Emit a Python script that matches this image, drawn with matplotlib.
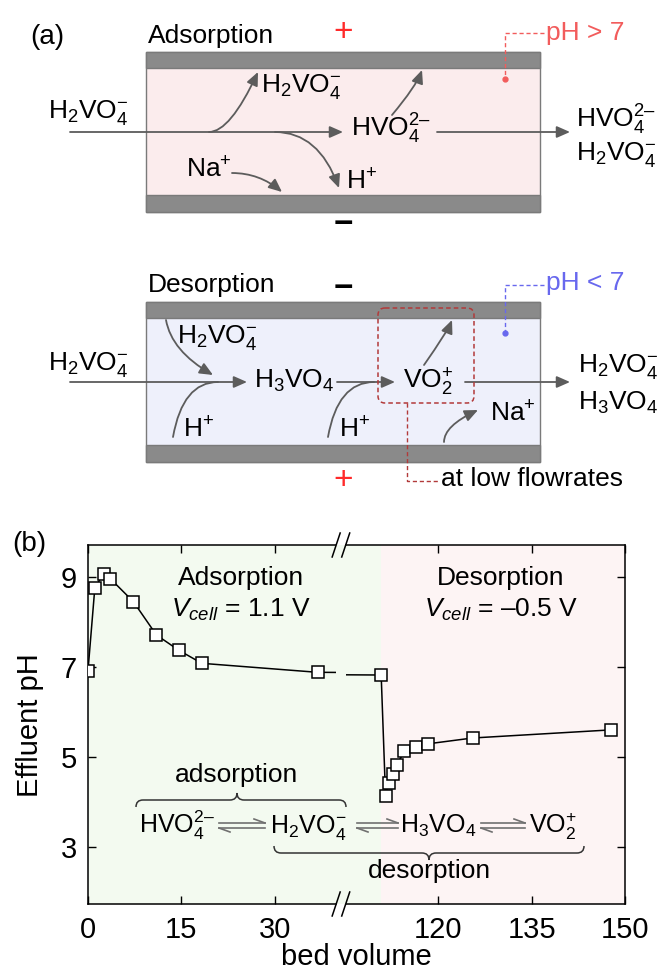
import matplotlib
matplotlib.use("Agg")
import matplotlib.pyplot as plt
from matplotlib.patches import Rectangle, FancyArrowPatch, FancyBboxPatch, PathPatch, ArrowStyle
from matplotlib.path import Path

plt.rcParams['font.family'] = ['Liberation Sans', 'DejaVu Sans']
plt.rcParams['mathtext.fontset'] = 'custom'
plt.rcParams['mathtext.rm'] = 'Liberation Sans'
plt.rcParams['mathtext.it'] = 'Liberation Sans:italic'
plt.rcParams['mathtext.default'] = 'regular'

# ---- data for panel (b) ----
bed_volume = [0, 1.1, 2.5, 3.6, 7.3, 11.0, 14.6, 18.3, 36.9,
              110.8, 111.5, 112.0, 112.7, 113.3, 114.5, 116.4, 118.3, 125.5, 147.7]
effluent_ph = [6.92, 8.76, 9.07, 8.96, 8.45, 7.71, 7.37, 7.08, 6.88,
               6.82, 4.14, 4.43, 4.63, 4.81, 5.13, 5.21, 5.29, 5.42, 5.60]
desorption_start = 110.8
left_xticks = [0, 15, 30]
right_xticks = [120, 135, 150]
ph_ticks = [3, 5, 7, 9]
species = [r'HVO$_4^{2–}$', r'H$_2$VO$_4^{-}$', r'H$_3$VO$_4$', r'VO$_2^{+}$']

W, H = 668, 974
GRAY = '#5c5c5c'
GREEN = '#f3faf0'
PINK = '#fdf4f4'
FS = 19

fig = plt.figure(figsize=(W / 100, H / 100), dpi=100)


def fbox(x0, y0, x1, y1):
    return [x0 / W, 1 - y1 / H, (x1 - x0) / W, (y1 - y0) / H]


# ---- panel (b): broken x axis ----
ppu = 6.22          # pixels per bed volume
x_left0 = 88
left_lim = (0, 39.9)
right_lim = (105.1, 150)
x_right1 = 625
ax_top, ax_bot = 545, 904
x_left1 = x_left0 + (left_lim[1] - left_lim[0]) * ppu
x_right0 = x_right1 - (right_lim[1] - right_lim[0]) * ppu

ax1 = fig.add_axes(fbox(x_left0, ax_top, x_left1, ax_bot))
ax2 = fig.add_axes(fbox(x_right0, ax_top, x_right1, ax_bot), sharey=ax1)

for ax, lim, ticks in [(ax1, left_lim, left_xticks), (ax2, right_lim, right_xticks)]:
    ax.axvspan(lim[0], desorption_start, color=GREEN, lw=0, zorder=0)
    ax.axvspan(desorption_start, lim[1], color=PINK, lw=0, zorder=0)
    ax.plot(bed_volume, effluent_ph, color='black', lw=1.1, marker='s', ms=8,
            mfc='white', mec='black', mew=1.1, zorder=3)
    ax.set_xlim(*lim)
    ax.set_xticks(ticks)
    ax.tick_params(direction='in', length=6, width=1.0, labelsize=21,
                   top=True, pad=9)
    for s in ax.spines.values():
        s.set_linewidth(1.1)

ax1.set_ylim(1.73, 9.71)
ax1.set_yticks(ph_ticks)
ax1.spines['right'].set_visible(False)
ax1.tick_params(axis='y', pad=8)
ax2.spines['left'].set_visible(False)
ax2.yaxis.tick_right()
ax2.tick_params(axis='y', labelright=False, direction='in', length=6, width=1.0)

# ---- overlay in pixel coordinates ----
ov = fig.add_axes([0, 0, 1, 1])
ov.set_xlim(0, W)
ov.set_ylim(H, 0)
ov.axis('off')


def txt(x, y, s, size=FS, **kw):
    kw.setdefault('va', 'baseline')
    ov.text(x, y, s, fontsize=size, **kw)


def arrow(p0, p1, conn='arc3,rad=0', head=True, color=GRAY):
    style = ArrowStyle('-|>', head_length=0.5, head_width=0.22) if head else '-'
    ov.add_patch(FancyArrowPatch(p0, p1, arrowstyle=style, connectionstyle=conn,
                                 color=color, lw=1.3, mutation_scale=16,
                                 shrinkA=0, shrinkB=0))


def cell(y0, fill):
    ov.add_patch(Rectangle((146, y0), 394, 160, fc=fill, ec='#7a7a7a', lw=1.0))
    ov.add_patch(Rectangle((146, y0), 394, 16, fc='#8a8a8a', ec='#7a7a7a', lw=1.0))
    ov.add_patch(Rectangle((146, y0 + 143), 394, 17, fc='#8a8a8a', ec='#7a7a7a', lw=1.0))


def leader(y_text, y_dot, color):
    ov.plot([544, 505, 505], [y_text, y_text, y_dot], color=color, lw=1.0,
            ls=(0, (3, 2)))
    ov.plot([505], [y_dot], 'o', color=color, ms=3.5)


# panel (a) top: adsorption
txt(30, 44, '(a)', size=20)
txt(148, 43, 'Adsorption')
txt(343, 33, '+', size=24, color='#ff2a2a', ha='center', va='center')
txt(343, 225, '−', size=24, fontweight='bold', ha='center', va='center')
cell(52, '#fbeced')
txt(546, 40, 'pH > 7', color='#f25c5c')
leader(33, 79, '#f25c5c')

arrow((70, 132), (343, 132))
arrow((437, 132), (570, 132))
arrow((209, 132), (258, 72), 'angle3,angleA=0,angleB=65')
arrow((275, 132), (339, 188), 'angle3,angleA=0,angleB=-70')
arrow((232, 173), (282, 192), 'angle3,angleA=0,angleB=-40')
arrow((392, 115), (422, 70), 'angle3,angleA=50,angleB=70')

txt(48, 118, species[1])
txt(261, 92, species[1])
txt(351, 137, species[0])
txt(346, 190, r'H$^{+}$')
txt(186, 177, r'Na$^{+}$')
txt(576, 128, species[0])
txt(576, 160, species[1])

# panel (a) bottom: desorption
txt(148, 292, 'Desorption')
txt(343, 289, '−', size=24, fontweight='bold', ha='center', va='center')
txt(343, 480, '+', size=24, color='#ff2a2a', ha='center', va='center')
cell(302, '#eef0fb')
txt(546, 290, 'pH < 7', color='#6868ee')
leader(285, 333, '#6868ee')

arrow((70, 382), (247, 382))
arrow((337, 382), (395, 382))
arrow((465, 382), (570, 382))
arrow((166, 320), (213, 375), 'angle3,angleA=-80,angleB=-30')
arrow((173, 437), (218, 382), 'angle3,angleA=80,angleB=0', head=False)
arrow((328, 437), (374, 382), 'angle3,angleA=80,angleB=0', head=False)
arrow((424, 365), (452, 320), 'angle3,angleA=55,angleB=68')
arrow((444, 442), (478, 410), 'angle3,angleA=90,angleB=25')

txt(48, 370, species[1])
txt(177, 343, species[1])
txt(254, 388, species[2])
txt(403, 388, species[3])
txt(183, 438, r'H$^{+}$')
txt(339, 438, r'H$^{+}$')
txt(490, 422, r'Na$^{+}$')
txt(578, 372, species[1])
txt(578, 410, species[2])

box_red = '#b23a3a'
ov.add_patch(FancyBboxPatch((378, 308), 96, 95, boxstyle='round,pad=0,rounding_size=7',
                            fill=False, ec=box_red, lw=1.1, ls=(0, (3, 2))))
ov.plot([407, 407, 439], [403, 481, 481], color=box_red, lw=1.0, ls=(0, (3, 2)))
txt(441, 486, 'at low flowrates')

# ---- panel (b) annotations ----
txt(12, 551, '(b)', size=20)
# gap of the broken axis
ov.add_patch(Rectangle((x_left1, ax_top), x_right0 - x_left1, ax_bot - ax_top,
                       fc=GREEN, lw=0))
for yb in (ax_top, ax_bot):
    for xb in (x_left1, x_right0):
        ov.plot([xb - 4, xb + 4], [yb + 12, yb - 12], color='black', lw=1.1)

txt(241, 585, 'Adsorption', ha='center')
txt(241, 617, r'$\mathit{V}_{\mathit{cell}}$ = 1.1 V', ha='center')
txt(501, 585, 'Desorption', ha='center')
txt(501, 617, r'$\mathit{V}_{\mathit{cell}}$ = –0.5 V', ha='center')

ov.text(30, 725, 'Effluent pH', fontsize=21, rotation=90, ha='center', va='center')
txt(356, 965, 'bed volume', size=21, ha='center')

# equilibrium row
for x, s in zip([139, 270, 400, 529], species):
    txt(x, 833, s, size=18)
for x0, x1 in [(219, 265), (357, 398), (481, 525)]:
    yc = 825.5
    ov.plot([x0, x1], [yc - 2.5, yc - 2.5], color='#707070', lw=1.2)
    ov.plot([x1 - 11, x1], [yc - 6.5, yc - 2.5], color='#707070', lw=1.2)
    ov.plot([x0, x1], [yc + 2.5, yc + 2.5], color='#707070', lw=1.2)
    ov.plot([x0, x0 + 11], [yc + 2.5, yc + 6.5], color='#707070', lw=1.2)


def brace(x0, x1, xt, y, d, r=7):
    # d = -1: tip points up, d = 1: tip points down
    v = [(x0, y - d * r), (x0, y), (x0 + r, y), (xt - r, y), (xt, y), (xt, y + d * r),
         (xt, y), (xt + r, y), (x1 - r, y), (x1, y), (x1, y - d * r)]
    c = [Path.MOVETO, Path.CURVE3, Path.CURVE3, Path.LINETO, Path.CURVE3, Path.CURVE3,
         Path.CURVE3, Path.CURVE3, Path.LINETO, Path.CURVE3, Path.CURVE3]
    ov.add_patch(PathPatch(Path(v, c), fill=False, ec='#333333', lw=1.1))


brace(136, 346, 237, 800, -1)
txt(237, 782, 'adsorption', ha='center')
brace(274, 584, 429, 853, 1)
txt(429, 878, 'desorption', ha='center')

fig.savefig('out.png', dpi=100)
